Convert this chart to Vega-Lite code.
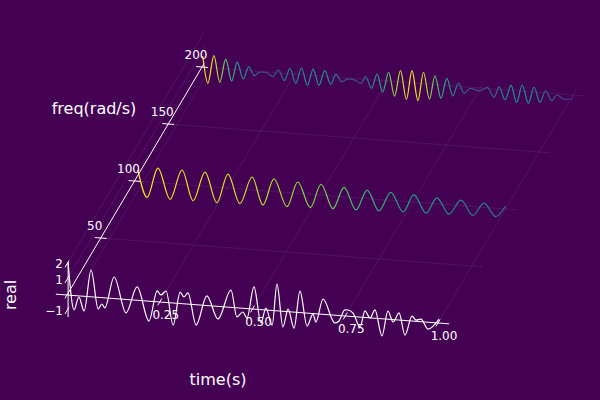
{"$schema":"https://vega.github.io/schema/vega-lite/v6.json","width":600,"height":400,"padding":0,"autosize":{"type":"fit","contains":"padding"},"background":"#440154","config":{"view":{"stroke":null}},
"datasets":{
"grid":[{"id":"t25","time":0.25,"freq":0,"real":0},{"id":"t25","time":0.25,"freq":205,"real":0},{"id":"t50","time":0.5,"freq":0,"real":0},{"id":"t50","time":0.5,"freq":205,"real":0},{"id":"t75","time":0.75,"freq":0,"real":0},{"id":"t75","time":0.75,"freq":205,"real":0},{"id":"t100","time":1,"freq":0,"real":0},{"id":"t100","time":1,"freq":205,"real":0},
{"id":"f50","time":0,"freq":50,"real":0},{"id":"f50","time":1.03,"freq":50,"real":0},{"id":"f100","time":0,"freq":100,"real":0},{"id":"f100","time":1.03,"freq":100,"real":0},{"id":"f150","time":0,"freq":150,"real":0},{"id":"f150","time":1.03,"freq":150,"real":0},{"id":"f200","time":0,"freq":200,"real":0},{"id":"f200","time":1.03,"freq":200,"real":0},
{"id":"r-1","time":0,"freq":0,"real":-1},{"id":"r-1","time":0,"freq":205,"real":-1},{"id":"r1","time":0,"freq":0,"real":1},{"id":"r1","time":0,"freq":205,"real":1},{"id":"r2","time":0,"freq":0,"real":2},{"id":"r2","time":0,"freq":205,"real":2}],
"axes":[{"id":"timeaxis","time":-0.03,"freq":0,"real":0},{"id":"timeaxis","time":1.03,"freq":0,"real":0},{"id":"freqaxis","time":0,"freq":0,"real":0},{"id":"freqaxis","time":0,"freq":203,"real":0},{"id":"realaxis","time":0.003,"freq":0,"real":2.13},{"id":"realaxis","time":0.003,"freq":0,"real":-1.42},
{"id":"tt0","time":0,"freq":-3,"real":0},{"id":"tt0","time":0,"freq":3,"real":0},{"id":"tt25","time":0.25,"freq":-3,"real":0},{"id":"tt25","time":0.25,"freq":3,"real":0},{"id":"tt50","time":0.5,"freq":-3,"real":0},{"id":"tt50","time":0.5,"freq":3,"real":0},{"id":"tt75","time":0.75,"freq":-3,"real":0},{"id":"tt75","time":0.75,"freq":3,"real":0},{"id":"tt100","time":1,"freq":-3,"real":0},{"id":"tt100","time":1,"freq":3,"real":0},
{"id":"ft50","time":-0.016,"freq":50,"real":0},{"id":"ft50","time":0.016,"freq":50,"real":0},{"id":"ft100","time":-0.016,"freq":100,"real":0},{"id":"ft100","time":0.016,"freq":100,"real":0},{"id":"ft150","time":-0.016,"freq":150,"real":0},{"id":"ft150","time":0.016,"freq":150,"real":0},{"id":"ft200","time":-0.016,"freq":200,"real":0},{"id":"ft200","time":0.016,"freq":200,"real":0},
{"id":"rt-1","time":0,"freq":-3,"real":-1},{"id":"rt-1","time":0,"freq":3,"real":-1},{"id":"rt1","time":0,"freq":-3,"real":1},{"id":"rt1","time":0,"freq":3,"real":1},{"id":"rt2","time":0,"freq":-3,"real":2},{"id":"rt2","time":0,"freq":3,"real":2}],
"s0":[[0.003,2.07],[0.019,-0.93],[0.032,-0.07],[0.046,-0.95],[0.065,1.73],[0.084,-0.75],[0.094,-0.41],[0.102,-0.65],[0.127,1.39],[0.159,-0.87],[0.189,0.86],[0.221,-1.28],[0.243,0.7],[0.253,0.46],[0.267,0.74],[0.286,-1.42],[0.305,0.74],[0.315,0.44],[0.326,0.72],[0.348,-1.31],[0.377,0.62],[0.407,-0.81],[0.442,1.12],[0.458,-0.59],[0.474,-0.24],[0.485,-0.61],[0.504,1.43],[0.523,-0.86],[0.536,0.13],[0.553,-0.94],[0.566,1.73],[0.582,-1.01],[0.596,0.17],[0.612,-1.03],[0.628,1.39],[0.647,-0.83],[0.663,-0.03],[0.671,-0.53],[0.69,0.99],[0.722,-0.5],[0.733,-0.35],[0.749,0.39],[0.757,0.4],[0.771,0.23],[0.79,-0.64],[0.803,0.42],[0.817,-0.01],[0.83,0.54],[0.849,-1.11],[0.865,0.53],[0.879,-0.15],[0.895,0.46],[0.911,-0.94],[0.93,0.32],[0.941,0.08],[0.954,0.17],[0.973,-0.44],[1.003,0.26]],
"s100":[[0.009,0.73],[0.034,-0.99],[0.063,0.95],[0.096,-1.01],[0.128,0.94],[0.158,-0.99],[0.19,0.92],[0.222,-1.0],[0.252,0.9],[0.284,-0.95],[0.317,0.83],[0.346,-0.92],[0.376,0.81],[0.411,-0.92],[0.44,0.73],[0.474,-0.86],[0.503,0.7],[0.535,-0.82],[0.565,0.61],[0.597,-0.79],[0.627,0.55],[0.659,-0.74],[0.691,0.52],[0.724,-0.69],[0.753,0.46],[0.786,-0.66],[0.815,0.39],[0.848,-0.6],[0.88,0.36],[0.912,-0.57],[0.942,0.28],[0.974,-0.54],[1.0,0.19]],
"s200":[[0.002,0.71],[0.016,-1.02],[0.032,0.79],[0.048,-0.9],[0.064,0.63],[0.08,-0.76],[0.095,0.48],[0.111,-0.57],[0.126,0.23],[0.141,-0.31],[0.156,-0.04],[0.173,-0.03],[0.191,-0.28],[0.206,0.18],[0.222,-0.48],[0.237,0.34],[0.253,-0.59],[0.268,0.42],[0.284,-0.67],[0.3,0.41],[0.315,-0.61],[0.331,0.36],[0.347,-0.49],[0.361,0.18],[0.377,-0.27],[0.394,-0.06],[0.412,-0.1],[0.429,-0.28],[0.441,0.17],[0.457,-0.55],[0.472,0.4],[0.487,-0.75],[0.503,0.57],[0.519,-0.94],[0.535,0.73],[0.551,-1.09],[0.566,0.79],[0.582,-1.12],[0.597,0.74],[0.613,-0.97],[0.628,0.57],[0.644,-0.86],[0.66,0.46],[0.676,-0.65],[0.691,0.2],[0.707,-0.42],[0.722,-0.07],[0.749,-0.19],[0.769,0.08],[0.787,-0.54],[0.801,0.17],[0.817,-0.65],[0.833,0.32],[0.848,-0.75],[0.863,0.38],[0.88,-0.75],[0.895,0.31],[0.911,-0.63],[0.926,0.14],[0.943,-0.47],[0.956,-0.08],[0.978,-0.32],[0.996,-0.28],[1.0,-0.11]],
"timeLabels":[{"label":"0.25","time":0.25,"freq":0,"real":0},{"label":"0.50","time":0.5,"freq":0,"real":0},{"label":"0.75","time":0.75,"freq":0,"real":0},{"label":"1.00","time":1,"freq":0,"real":0}],
"freqLabels":[{"label":"50","time":0,"freq":50,"real":0},{"label":"100","time":0,"freq":100,"real":0},{"label":"150","time":0,"freq":150,"real":0},{"label":"200","time":0,"freq":200,"real":0}],
"realLabels":[{"label":"−1","time":0,"freq":0,"real":-1},{"label":"1","time":0,"freq":0,"real":1},{"label":"2","time":0,"freq":0,"real":2}],
"titles":[{"label":"time(s)","time":0.407,"freq":0,"real":-4.74},{"label":"freq(rad/s)","time":0,"freq":40,"real":9.03}],
"realTitle":[{"label":"real","time":-0.151,"freq":0,"real":-0.27}]
},
"data":{"values":[]},
"encoding":{"x":{"field":"px","type":"quantitative","scale":{"domain":[0,600],"nice":false,"zero":false},"axis":null},"y":{"field":"py","type":"quantitative","scale":{"domain":[400,0],"nice":false,"zero":false},"axis":null}},
"layer":[
{"data":{"name":"grid"},"transform":[{"calculate":"67+371*datum.time+0.675*datum.freq","as":"px"},{"calculate":"295+28*datum.time-1.14*datum.freq-15.5*datum.real","as":"py"}],"mark":{"type":"line","stroke":"#ffffff","strokeOpacity":0.08,"strokeWidth":1},"encoding":{"detail":{"field":"id"}}},
{"data":{"name":"s0"},"transform":[{"calculate":"datum[0]","as":"time"},{"calculate":"datum[1]","as":"real"},{"calculate":"67+371*datum.time","as":"px"},{"calculate":"295+28*datum.time-15.5*datum.real","as":"py"}],"mark":{"type":"line","interpolate":"monotone","stroke":"#ffffff","strokeWidth":1.2}},
{"data":{"name":"s100"},"transform":[{"calculate":"datum[0]","as":"time"},{"calculate":"datum[1]","as":"real"},{"calculate":"67+371*datum.time+67.5","as":"px"},{"calculate":"295+28*datum.time-114-15.5*datum.real","as":"py"}],"mark":{"type":"line","interpolate":"monotone","strokeWidth":1.2,"stroke":{"gradient":"linear","x1":0,"y1":0,"x2":1,"y2":0,"stops":[{"offset":0,"color":"#fde725"},{"offset":0.2,"color":"#e5e419"},{"offset":0.35,"color":"#b5de2b"},{"offset":0.5,"color":"#7ad151"},{"offset":0.62,"color":"#35b779"},{"offset":0.75,"color":"#1fa088"},{"offset":0.88,"color":"#26828e"},{"offset":1,"color":"#2c728e"}]}}},
{"data":{"name":"s200"},"transform":[{"calculate":"datum[0]","as":"time"},{"calculate":"datum[1]","as":"real"},{"calculate":"67+371*datum.time+135","as":"px"},{"calculate":"295+28*datum.time-228-15.5*datum.real","as":"py"}],"mark":{"type":"line","interpolate":"monotone","strokeWidth":1.2,"stroke":{"gradient":"linear","x1":0,"y1":0,"x2":1,"y2":0,"stops":[{"offset":0,"color":"#fde725"},{"offset":0.03,"color":"#dde318"},{"offset":0.06,"color":"#5ec962"},{"offset":0.09,"color":"#1f9e89"},{"offset":0.13,"color":"#2a788e"},{"offset":0.17,"color":"#414487"},{"offset":0.21,"color":"#31688e"},{"offset":0.26,"color":"#21908c"},{"offset":0.33,"color":"#21908c"},{"offset":0.37,"color":"#2f6c8e"},{"offset":0.41,"color":"#414487"},{"offset":0.45,"color":"#2a788e"},{"offset":0.49,"color":"#28ae80"},{"offset":0.52,"color":"#a0da39"},{"offset":0.56,"color":"#fde725"},{"offset":0.59,"color":"#e5e419"},{"offset":0.62,"color":"#7ad151"},{"offset":0.65,"color":"#22a884"},{"offset":0.69,"color":"#2a788e"},{"offset":0.73,"color":"#414487"},{"offset":0.78,"color":"#355f8d"},{"offset":0.83,"color":"#21908c"},{"offset":0.88,"color":"#21908c"},{"offset":0.93,"color":"#31688e"},{"offset":0.97,"color":"#414487"},{"offset":1,"color":"#46327e"}]}}},
{"data":{"name":"axes"},"transform":[{"calculate":"67+371*datum.time+0.675*datum.freq","as":"px"},{"calculate":"295+28*datum.time-1.14*datum.freq-15.5*datum.real","as":"py"}],"mark":{"type":"line","stroke":"#ffffff","strokeWidth":1},"encoding":{"detail":{"field":"id"}}},
{"data":{"name":"timeLabels"},"transform":[{"calculate":"67+371*datum.time+0.675*datum.freq","as":"px"},{"calculate":"295+28*datum.time-1.14*datum.freq-15.5*datum.real","as":"py"}],"mark":{"type":"text","font":"DejaVu Sans","fontSize":12,"fill":"#ffffff","align":"center","baseline":"middle","dx":6,"dy":13},"encoding":{"text":{"field":"label"}}},
{"data":{"name":"freqLabels"},"transform":[{"calculate":"67+371*datum.time+0.675*datum.freq","as":"px"},{"calculate":"295+28*datum.time-1.14*datum.freq-15.5*datum.real","as":"py"}],"mark":{"type":"text","font":"DejaVu Sans","fontSize":12,"fill":"#ffffff","align":"center","baseline":"middle","dx":-6,"dy":-12},"encoding":{"text":{"field":"label"}}},
{"data":{"name":"realLabels"},"transform":[{"calculate":"67+371*datum.time+0.675*datum.freq","as":"px"},{"calculate":"295+28*datum.time-1.14*datum.freq-15.5*datum.real","as":"py"}],"mark":{"type":"text","font":"DejaVu Sans","fontSize":12,"fill":"#ffffff","align":"right","baseline":"middle","dx":-4},"encoding":{"text":{"field":"label"}}},
{"data":{"name":"titles"},"transform":[{"calculate":"67+371*datum.time+0.675*datum.freq","as":"px"},{"calculate":"295+28*datum.time-1.14*datum.freq-15.5*datum.real","as":"py"}],"mark":{"type":"text","font":"DejaVu Sans","fontSize":16,"fill":"#ffffff","align":"center","baseline":"middle"},"encoding":{"text":{"field":"label"}}},
{"data":{"name":"realTitle"},"transform":[{"calculate":"67+371*datum.time+0.675*datum.freq","as":"px"},{"calculate":"295+28*datum.time-1.14*datum.freq-15.5*datum.real","as":"py"}],"mark":{"type":"text","font":"DejaVu Sans","fontSize":16,"fill":"#ffffff","align":"center","baseline":"middle","angle":-90},"encoding":{"text":{"field":"label"}}}
]}
